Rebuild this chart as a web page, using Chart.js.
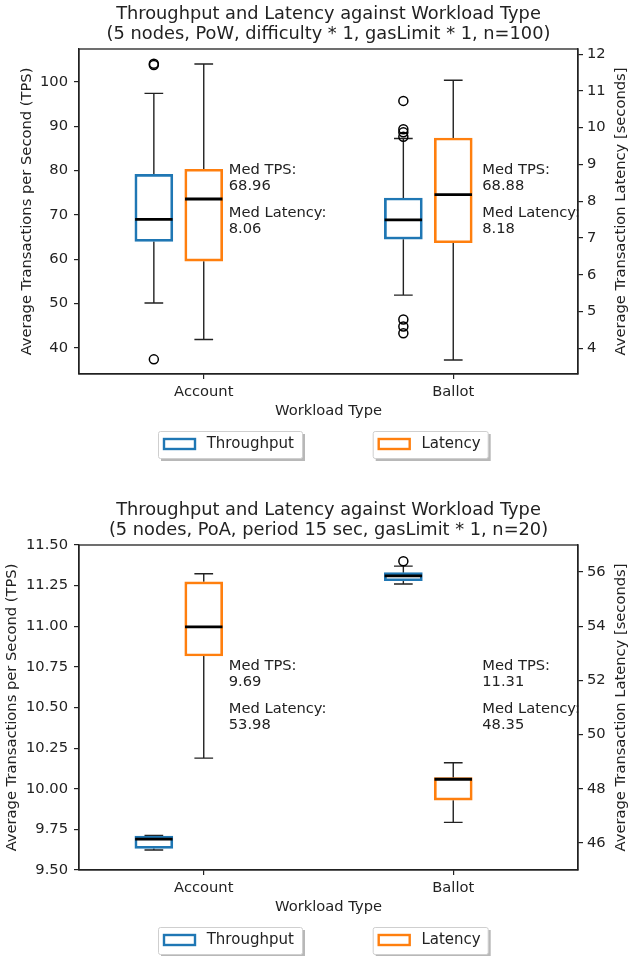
<!DOCTYPE html>
<html>
<head>
<meta charset="utf-8">
<title>Throughput and Latency against Workload Type</title>
<script src="https://cdn.jsdelivr.net/npm/chart.js@4.4.1/dist/chart.umd.min.js"></script>
<style>
  html, body { margin: 0; padding: 0; background: #fff; }
  .panel { position: relative; width: 630px; }
  #p1 { height: 496px; }
  #p2 { height: 460px; }
</style>
</head>
<body>
<div class="panel" id="p1"><canvas id="c1"></canvas></div>
<div class="panel" id="p2"><canvas id="c2"></canvas></div>
<script>
const CATEGORIES = ['Account', 'Ballot'];
const CAT_POS = [1, 2];
const X_RANGE = [0.5, 2.5];

// each box: [whisker low, Q1, median, Q3, whisker high]
// panel 1 - PoW, n=100
const powTps = [
  [50.1, 64.0, 68.96, 79.15, 97.4],
  [51.9, 64.5, 68.88, 73.8, 87.2]
];
const powTpsOutliers = [
  [103.8, 104.1, 37.4],
  [95.7, 89.3, 88.6, 87.6, 46.4, 44.8, 43.3]
];
const powLatency = [
  [4.24, 6.37, 8.06, 8.87, 11.73],
  [3.68, 6.87, 8.18, 9.72, 11.29]
];
const powLatencyOutliers = [[], []];
const powTpsRange = [34.1, 107.4];
const powLatencyRange = [3.3, 12.14];
const powTpsTicks = [40, 50, 60, 70, 80, 90, 100];
const powLatencyTicks = [4, 5, 6, 7, 8, 9, 10, 11, 12];

// panel 2 - PoA, n=20
const poaTps = [
  [9.623, 9.633, 9.69, 9.709, 9.713],
  [11.26, 11.28, 11.31, 11.33, 11.37]
];
const poaTpsOutliers = [[], [11.40]];
const poaLatency = [
  [49.13, 52.90, 53.98, 55.64, 55.94],
  [46.76, 47.58, 48.35, 48.41, 48.96]
];
const poaLatencyOutliers = [[], []];
const poaTpsRange = [9.5, 11.5];
const poaLatencyRange = [45, 57];
const poaTpsTicks = [9.5, 9.75, 10, 10.25, 10.5, 10.75, 11, 11.25, 11.5];
const poaLatencyTicks = [46, 48, 50, 52, 54, 56];

const BLUE = '#1f77b4';
const ORANGE = '#ff7f0e';
const INK = '#222';
const FONT = "'DejaVu Sans', sans-serif";

const TPS_DX = -0.2;
const LAT_DX = 0;
const BOX_W = 0.15;
const MED_DX = [25, 29];
const LEGEND_BOXES = [{ x: 158, w: 144 }, { x: 372.7, w: 115 }];

Chart.defaults.font.family = FONT;
Chart.defaults.font.size = 14.7;
Chart.defaults.color = INK;

const PANELS = {
  c1: {
    title: ['Throughput and Latency against Workload Type', '(5 nodes, PoW, difficulty * 1, gasLimit * 1, n=100)'],
    tps: powTps, tpsOut: powTpsOutliers, lat: powLatency, latOut: powLatencyOutliers,
    tpsRange: powTpsRange, latRange: powLatencyRange,
    tpsTicks: powTpsTicks, latTicks: powLatencyTicks,
    tpsFmt: v => String(v), yTitleGap: 51.5
  },
  c2: {
    title: ['Throughput and Latency against Workload Type', '(5 nodes, PoA, period 15 sec, gasLimit * 1, n=20)'],
    tps: poaTps, tpsOut: poaTpsOutliers, lat: poaLatency, latOut: poaLatencyOutliers,
    tpsRange: poaTpsRange, latRange: poaLatencyRange,
    tpsTicks: poaTpsTicks, latTicks: poaLatencyTicks,
    tpsFmt: v => v.toFixed(2), yTitleGap: 66.5
  }
};

const boxExtras = {
  id: 'boxExtras',
  beforeDatasetsDraw(chart) {
    const p = PANELS[chart.canvas.id];
    const ctx = chart.ctx;
    const xs = chart.scales.x;
    ctx.save();
    ctx.strokeStyle = INK;
    ctx.lineWidth = 1.4;
    [[p.tps, 'y', TPS_DX], [p.lat, 'y2', LAT_DX]].forEach(([stats, ax, dx]) => {
      const ys = chart.scales[ax];
      stats.forEach((s, i) => {
        const x = xs.getPixelForValue(CAT_POS[i] + dx);
        const xa = xs.getPixelForValue(CAT_POS[i] + dx - BOX_W / 4);
        const xb = xs.getPixelForValue(CAT_POS[i] + dx + BOX_W / 4);
        const lo = ys.getPixelForValue(s[0]);
        const hi = ys.getPixelForValue(s[4]);
        ctx.beginPath();
        ctx.moveTo(x, lo); ctx.lineTo(x, ys.getPixelForValue(s[1]));
        ctx.moveTo(x, ys.getPixelForValue(s[3])); ctx.lineTo(x, hi);
        ctx.moveTo(xa, lo); ctx.lineTo(xb, lo);
        ctx.moveTo(xa, hi); ctx.lineTo(xb, hi);
        ctx.stroke();
      });
    });
    ctx.restore();
  },
  afterDatasetsDraw(chart) {
    const p = PANELS[chart.canvas.id];
    const ctx = chart.ctx;
    const xs = chart.scales.x;
    ctx.save();
    ctx.strokeStyle = '#000';
    ctx.lineWidth = 2.8;
    [[p.tps, 'y', TPS_DX], [p.lat, 'y2', LAT_DX]].forEach(([stats, ax, dx]) => {
      const ys = chart.scales[ax];
      stats.forEach((s, i) => {
        const y = ys.getPixelForValue(s[2]);
        ctx.beginPath();
        ctx.moveTo(xs.getPixelForValue(CAT_POS[i] + dx - BOX_W / 2), y);
        ctx.lineTo(xs.getPixelForValue(CAT_POS[i] + dx + BOX_W / 2), y);
        ctx.stroke();
      });
    });
    ctx.restore();
  },
  afterDraw(chart) {
    const p = PANELS[chart.canvas.id];
    const ctx = chart.ctx;
    const xs = chart.scales.x;
    const { left, right, top, bottom } = chart.chartArea;
    const cx = (left + right) / 2;
    const cy = (top + bottom) / 2;
    ctx.save();

    // marco
    ctx.strokeStyle = INK;
    ctx.lineWidth = 1.3;
    ctx.strokeRect(left, top, right - left, bottom - top);

    // titulos
    ctx.fillStyle = INK;
    ctx.textAlign = 'center';
    ctx.textBaseline = 'middle';
    ctx.font = `17.8px ${FONT}`;
    ctx.fillText(p.title[0], cx, top - 35);
    ctx.fillText(p.title[1], cx, top - 15);

    ctx.font = `14.7px ${FONT}`;
    ctx.fillText('Workload Type', cx, bottom + 37);
    ctx.save();
    ctx.translate(left - p.yTitleGap, cy);
    ctx.rotate(-Math.PI / 2);
    ctx.fillText('Average Transactions per Second (TPS)', 0, 0);
    ctx.restore();
    ctx.save();
    ctx.translate(right + 43, cy);
    ctx.rotate(-Math.PI / 2);
    ctx.fillText('Average Transaction Latency [seconds]', 0, 0);
    ctx.restore();

    // medianas en texto
    ctx.textAlign = 'left';
    ctx.textBaseline = 'alphabetic';
    CAT_POS.forEach((c, i) => {
      const x = xs.getPixelForValue(c) + MED_DX[i];
      const lines = ['Med TPS:', p.tps[i][2].toFixed(2), 'Med Latency:', p.lat[i][2].toFixed(2)];
      [125, 141, 168, 184].forEach((dy, k) => ctx.fillText(lines[k], x, top + dy));
    });

    // leyendas
    ctx.font = `15px ${FONT}`;
    ctx.textBaseline = 'middle';
    LEGEND_BOXES.forEach((b, k) => {
      const ds = chart.data.datasets[k];
      const y0 = bottom + 57;
      const h = 27;
      ctx.fillStyle = '#b8b8b8';
      ctx.fillRect(b.x + 3, y0 + 3, b.w, h);
      ctx.fillStyle = '#fff';
      ctx.strokeStyle = '#cfcfcf';
      ctx.lineWidth = 1;
      ctx.beginPath();
      ctx.roundRect(b.x + 0.5, y0 + 0.5, b.w, h, 2);
      ctx.fill();
      ctx.stroke();
      ctx.strokeStyle = ds.borderColor;
      ctx.lineWidth = 2.4;
      ctx.strokeRect(b.x + 6, y0 + 8, 31, 10);
      ctx.fillStyle = INK;
      ctx.fillText(ds.label, b.x + 48.7, y0 + 13.5);
    });
    ctx.restore();
  }
};

function boxData(stats, dx) {
  return stats.map((s, i) => ({ x: CAT_POS[i] + dx, y: [s[1], s[3]] }));
}

function outlierData(outs, dx) {
  return outs.flatMap((arr, i) => arr.map(v => ({ x: CAT_POS[i] + dx, y: v })));
}

function crearPanel(id) {
  const p = PANELS[id];
  const boxStyle = {
    backgroundColor: '#fff', borderWidth: 2.7, borderSkipped: false,
    barThickness: 38, grouped: false
  };
  const outStyle = {
    type: 'scatter', pointRadius: 4.5, pointBorderWidth: 1.5,
    pointBorderColor: '#000', pointBackgroundColor: 'rgba(0,0,0,0)'
  };
  const axisGrid = {
    display: true, drawOnChartArea: false, drawTicks: true,
    tickLength: 5, color: INK, lineWidth: 1.2
  };

  return new Chart(document.getElementById(id), {
    type: 'bar',
    data: {
      datasets: [
        { label: 'Throughput', data: boxData(p.tps, TPS_DX), yAxisID: 'y', borderColor: BLUE, ...boxStyle },
        { label: 'Latency', data: boxData(p.lat, LAT_DX), yAxisID: 'y2', borderColor: ORANGE, ...boxStyle },
        { label: 'tpsOut', data: outlierData(p.tpsOut, TPS_DX), yAxisID: 'y', ...outStyle },
        { label: 'latOut', data: outlierData(p.latOut, LAT_DX), yAxisID: 'y2', ...outStyle }
      ]
    },
    options: {
      responsive: true,
      maintainAspectRatio: false,
      animation: false,
      events: [],
      layout: { padding: { top: 49, left: 0, right: 0, bottom: 0 } },
      plugins: { legend: { display: false }, title: { display: false }, tooltip: { enabled: false } },
      scales: {
        x: {
          type: 'linear', offset: false, min: X_RANGE[0], max: X_RANGE[1],
          grid: { ...axisGrid, offset: false },
          border: { display: true, color: INK, width: 1.3 },
          afterBuildTicks: s => { s.ticks = CAT_POS.map(v => ({ value: v })); },
          afterFit: s => { s.height = s.chart.height - 49 - 325; },
          ticks: { padding: 4, maxRotation: 0, callback: v => CATEGORIES[CAT_POS.indexOf(v)] || '' }
        },
        y: {
          type: 'linear', position: 'left', min: p.tpsRange[0], max: p.tpsRange[1],
          grid: axisGrid,
          border: { display: true, color: INK, width: 1.3 },
          afterBuildTicks: s => { s.ticks = p.tpsTicks.map(v => ({ value: v })); },
          afterFit: s => { s.width = 79; },
          ticks: { padding: 6, callback: v => p.tpsFmt(v) }
        },
        y2: {
          type: 'linear', position: 'right', min: p.latRange[0], max: p.latRange[1],
          grid: axisGrid,
          border: { display: true, color: INK, width: 1.3 },
          afterBuildTicks: s => { s.ticks = p.latTicks.map(v => ({ value: v })); },
          afterFit: s => { s.width = 52; },
          ticks: { padding: 4, callback: v => String(v) }
        }
      }
    },
    plugins: [boxExtras]
  });
}

document.addEventListener('DOMContentLoaded', () => {
  crearPanel('c1');
  crearPanel('c2');
});
</script>
</body>
</html>
